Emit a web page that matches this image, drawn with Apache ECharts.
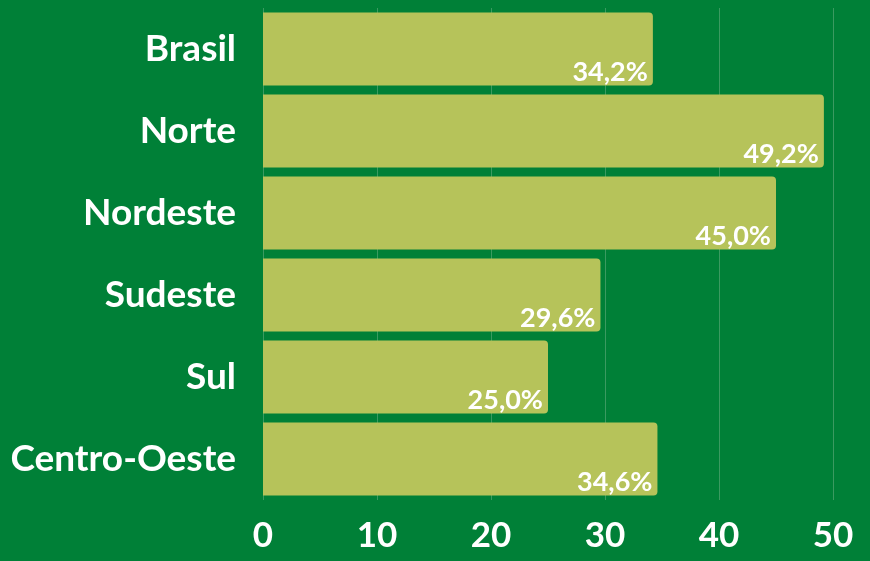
<!DOCTYPE html>
<html><head><meta charset="utf-8">
<script src="https://cdn.jsdelivr.net/npm/echarts@6/dist/echarts.min.js"></script>
<style>html,body{margin:0;padding:0;background:#008037;}#c{width:870px;height:561px;}</style>
</head><body><div id="c"></div>
<script>
const categories = ['Brasil','Norte','Nordeste','Sudeste','Sul','Centro-Oeste'];
const values = [34.2, 49.2, 45.0, 29.6, 25.0, 34.6];
const xTicks = [0, 10, 20, 30, 40, 50];

const chart = echarts.init(document.getElementById('c'));
chart.setOption({
  backgroundColor: '#008037',
  animation: false,
  grid: {left: 263, right: 37, top: 8, bottom: 61, containLabel: false},
  xAxis: {
    type: 'value', min: xTicks[0], max: xTicks[xTicks.length-1], interval: 10,
    axisLine: {show: false}, axisTick: {show: false},
    splitLine: {lineStyle: {color: '#3b9a60', width: 1}},
    axisLabel: {color: '#fff', fontFamily: 'Lato', fontWeight: 'bold', fontSize: 35, margin: 18}
  },
  yAxis: {
    type: 'category', data: categories, inverse: true,
    axisLine: {show: false}, axisTick: {show: false},
    axisLabel: {color: '#fff', fontFamily: 'Lato', fontWeight: 'bold', fontSize: 37, margin: 27}
  },
  series: [{
    type: 'bar', data: values, barCategoryGap: '11%',
    itemStyle: {color: '#b6c35a', borderRadius: [0, 4, 4, 0]},
    label: {
      show: true, position: 'insideBottomRight', distance: 3, offset: [-2, 3],
      color: '#fff', fontFamily: 'Lato', fontWeight: 'bold', fontSize: 27,
      formatter: p => p.value.toFixed(1).replace('.', ',') + '%'
    }
  }]
});
</script></body></html>
